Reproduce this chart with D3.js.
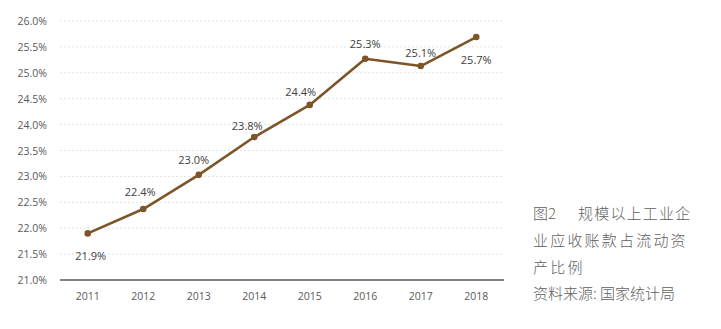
<!DOCTYPE html>
<html>
<head>
<meta charset="utf-8">
<script src="https://cdn.jsdelivr.net/npm/d3@7"></script>
<style>
  body { margin: 0; background: #fff; }
  svg { display: block; }
</style>
</head>
<body>
<div id="chart"></div>
<script>
const years = ["2011", "2012", "2013", "2014", "2015", "2016", "2017", "2018"];
const ratios = [21.9, 22.37, 23.03, 23.76, 24.38, 25.27, 25.13, 25.69];
const labels = ["21.9%", "22.4%", "23.0%", "23.8%", "24.4%", "25.3%", "25.1%", "25.7%"];
const yTicks = [21.0, 21.5, 22.0, 22.5, 23.0, 23.5, 24.0, 24.5, 25.0, 25.5, 26.0];
const captionLines = ["业应收账款占流动资", "产比例"];

// where each data label sits relative to its point
const labelOffsets = [[3, 23], [-3, -17], [-5, -15], [-7, -11], [-9, -13], [0, -15], [0, -13], [0, 23]];

const width = 721, height = 329;
const svg = d3.select("#chart").append("svg")
    .attr("width", width)
    .attr("height", height);

const x = d3.scaleBand().domain(years).range([60, 504]);
const y = d3.scaleLinear().domain([21, 26]).range([280, 21]);

// gridlines
svg.selectAll(".grid")
    .data(yTicks.filter(d => d > 21))
    .join("line")
    .attr("x1", 60).attr("x2", 504)
    .attr("y1", d => y(d)).attr("y2", d => y(d))
    .attr("stroke", "#e3e3e3")
    .attr("stroke-width", 1)
    .attr("stroke-dasharray", "2,2");

// y tick labels
svg.selectAll(".ylab")
    .data(yTicks)
    .join("text")
    .attr("x", 47)
    .attr("y", d => y(d) + 4)
    .attr("text-anchor", "end")
    .attr("font-family", "Open Sans, sans-serif")
    .attr("font-size", 10.5)
    .attr("fill", "#595959")
    .text(d => d.toFixed(1) + "%");

// x axis
svg.append("line")
    .attr("x1", 60).attr("x2", 504)
    .attr("y1", y(21)).attr("y2", y(21))
    .attr("stroke", "#808080")
    .attr("stroke-width", 2);

svg.selectAll(".xlab")
    .data(years)
    .join("text")
    .attr("x", d => x(d) + x.bandwidth() / 2)
    .attr("y", 300)
    .attr("text-anchor", "middle")
    .attr("font-family", "Open Sans, sans-serif")
    .attr("font-size", 10.5)
    .attr("fill", "#595959")
    .text(d => d);

const pts = years.map((yr, i) => ({ yr, v: ratios[i], lab: labels[i], off: labelOffsets[i] }));

let line = d3.line()
    .x(d => x(d.yr) + x.bandwidth() / 2)
    .y(d => y(d.v));

svg.append("path")
    .datum(pts)
    .attr("fill", "none")
    .attr("stroke", "#7d5528")
    .attr("stroke-width", 2.6)
    .attr("stroke-linejoin", "round")
    .attr("d", line);

svg.selectAll(".dot")
    .data(pts)
    .join("circle")
    .attr("cx", d => x(d.yr) + x.bandwidth() / 2)
    .attr("cy", d => y(d.v))
    .attr("r", 3.3)
    .attr("fill", "#7d5528");

svg.selectAll(".dlab")
    .data(pts)
    .join("text")
    .attr("x", d => x(d.yr) + x.bandwidth() / 2 + d.off[0])
    .attr("y", d => y(d.v) + d.off[1] + 4)
    .attr("text-anchor", "middle")
    .attr("font-family", "Open Sans, sans-serif")
    .attr("font-size", 11)
    .attr("fill", "#404040")
    .text(d => d.lab);

// caption
const cap = svg.append("g")
    .attr("font-family", "Noto Sans CJK SC, sans-serif")
    .attr("font-size", 15)
    .attr("font-weight", 300)
    .attr("fill", "#606060");

cap.append("text").attr("x", 533).attr("y", 219).text("图2");
cap.append("text").attr("x", 578).attr("y", 219)
    .attr("letter-spacing", 1.2).text("规模以上工业企");
cap.selectAll(".cl")
    .data(captionLines)
    .join("text")
    .attr("x", 533)
    .attr("y", (d, i) => 246 + i * 27)
    .attr("letter-spacing", 2.2)
    .text(d => d);
cap.append("text").attr("x", 533).attr("y", 299).text("资料来源: 国家统计局");
</script>
</body>
</html>
